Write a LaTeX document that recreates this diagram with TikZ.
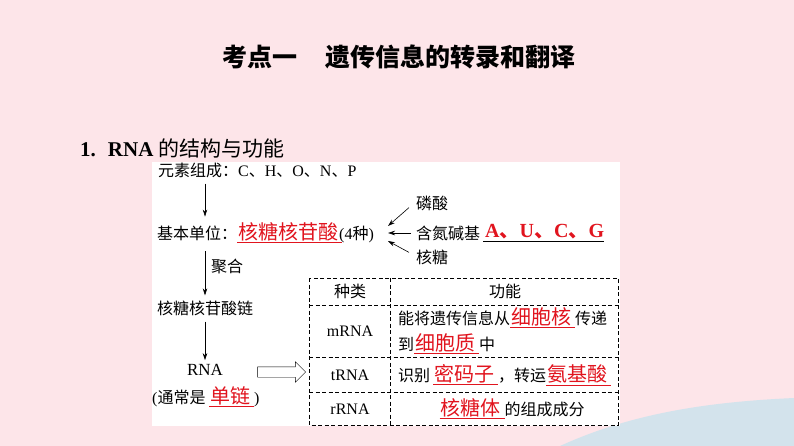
\documentclass[tikz,border=0pt]{standalone}
\usepackage{fontspec}
\usepackage{xcolor}
\setmainfont{Liberation Serif}
\newfontfamily\cjk{Noto Sans CJK SC}
\usetikzlibrary{arrows.meta,positioning,shapes.arrows}
\definecolor{bgpink}{HTML}{FDE5E9}
\definecolor{wavebl}{HTML}{D3E3EC}
\definecolor{ansred}{HTML}{E1141E}
\newcommand\en[1]{{\rmfamily #1}}
\newcommand\ans[1]{\textcolor{ansred}{\underline{\hspace{1pt}\fontsize{20}{22}\selectfont #1\hspace{4pt}}}}
\tikzset{
  zh/.style={font=\cjk\fontsize{16}{18}\selectfont, inner sep=0pt},
  arr/.style={-{Stealth[length=7pt,width=4.5pt]}, semithick},
  tabline/.style={dash pattern=on 4pt off 2.5pt, thin}
}
\begin{document}
\begin{tikzpicture}[x=1pt,y=-1pt]
  % page and panel
  \fill[bgpink] (0,0) rectangle (794,446);
  \fill[wavebl] (560,446) .. controls (630,414) and (705,402) .. (794,398) -- (794,446) -- cycle;
  \fill[white] (152,162) rectangle (620,426);

  \node[font=\cjk\bfseries\fontsize{25}{28}\selectfont] (title) at (399,57)
    {考点一\hspace{1.1em}遗传信息的转录和翻译};
  \node[anchor=west, inner sep=0pt, font=\fontsize{21}{24}\selectfont] (sec) at (80,148)
    {\textbf{1.}\hspace{12pt}\textbf{RNA} {\cjk 的结构与功能}};

  % left column
  \coordinate (spine) at (205,0);
  \node[zh, anchor=west] (elem) at (158,170)
    {元素组成：\en{C}、\en{H}、\en{O}、\en{N}、\en{P}};
  \node[zh, anchor=west] (unit) at (157,233)
    {基本单位：\ans{核糖核苷酸}\hspace{-3pt}\en{(4}种\en{)}};
  \node[zh, anchor=west] (chain) at (157,308) {核糖核苷酸链};
  \node[font=\fontsize{17}{19}\selectfont, inner sep=0pt] (rna) at (205,370) {RNA};
  \node[zh, anchor=west] (note) at (152,397) {\en{(}通常是 \ans{单链}\en{)}};
  \node[zh, anchor=west] (poly) at (211,266) {聚合};

  \draw[arr] ([yshift=-6pt]elem.south -| spine) -- ([yshift=6pt]unit.north -| spine);
  \draw[arr] ([yshift=-8pt]unit.south -| spine) -- ([yshift=5pt]chain.north -| spine);
  \draw[arr] ([yshift=-6pt]chain.south -| spine) -- ([yshift=4pt]rna.north);

  % components
  \coordinate (hub) at (388,233);
  \node[zh, anchor=west] (phos) at (416,203) {磷酸};
  \node[zh, anchor=west] (base) at (416,233) {含氮碱基};
  \node[zh, anchor=west] (sugar) at (416,257) {核糖};
  \node[anchor=west, inner sep=0pt, font=\bfseries\fontsize{20}{22}\selectfont] (aucg) at (483,233)
    {\underline{\hspace{2pt}\textcolor{ansred}{A{\cjk 、}U{\cjk 、}C{\cjk 、}G}}};
  \draw[arr] ([shift={(-7pt,3pt)}]phos.south west) -- ([yshift=7pt]hub);
  \draw[arr] ([xshift=-5pt]base.west) -- (hub);
  \draw[arr] ([shift={(-7pt,-3pt)}]sugar.north west) -- ([yshift=-8pt]hub);

  % big arrow to table
  \node[single arrow, draw, thin, minimum height=48pt, inner sep=0pt,
        single arrow head extend=5pt] (big) at (279,372) {\rule{0pt}{10pt}};

  % table
  \draw[tabline] (309,278) rectangle (618,425);
  \foreach \y in {305,357,392}
    \draw[tabline] (309,\y) -- (618,\y);
  \draw[tabline] (390,278) -- (390,425);

  \node[zh] (kind) at (350,291) {种类};
  \node[zh] (func) at (505,291) {功能};
  \foreach \name/\y in {mRNA/331,tRNA/375,rRNA/409}
    \node[font=\fontsize{16}{18}\selectfont, inner sep=0pt] (\name) at (350,\y) {\name};

  \node[zh, anchor=west] (fm1) at (398,318) {能将遗传信息从\ans{细胞核}传递};
  \node[zh, anchor=west] (fm2) at (398,344) {到\ans{细胞质}中};
  \node[zh, anchor=west] (ft) at (398,375) {识别\hspace{3pt}\ans{密码子}，转运\ans{氨基酸}};
  \node[zh] (fr) at (512,409) {\ans{核糖体}的组成成分};
\end{tikzpicture}
\end{document}
